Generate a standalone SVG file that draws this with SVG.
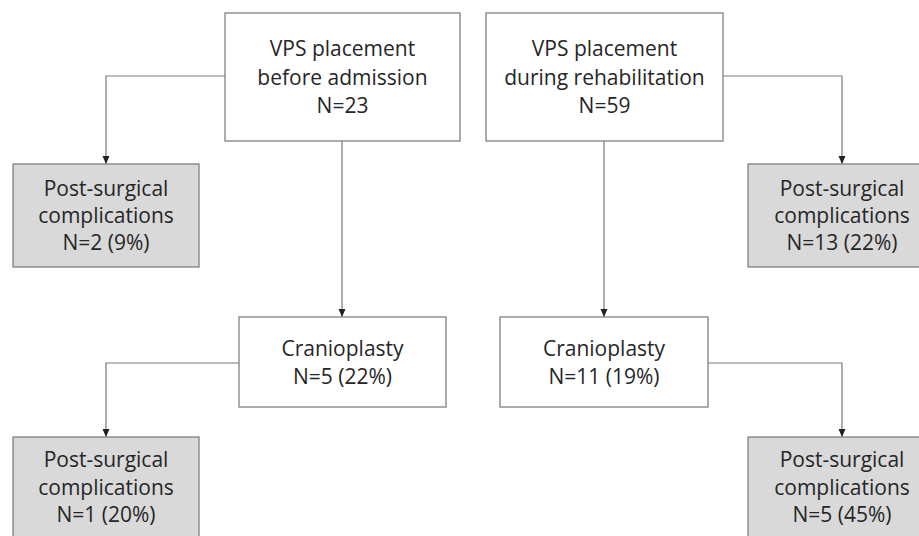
<svg xmlns="http://www.w3.org/2000/svg" width="919" height="536" viewBox="0 0 919 536">
<style>
.box{fill:#ffffff;stroke:#808080;stroke-width:1.3}
.grey{fill:#d9d9d9;stroke:#808080;stroke-width:1.3}
.t{font-family:"Open Sans","Liberation Sans",sans-serif;font-size:21px;fill:#262626;text-anchor:middle}
.c{fill:none;stroke:#7a7a7a;stroke-width:1.2}
</style>
<defs>
<marker id="arr" viewBox="0 0 8 8" refX="8" refY="4" markerWidth="8" markerHeight="8" markerUnits="userSpaceOnUse" orient="auto">
<path d="M0,0.5 L8,4 L0,7.5 Z" fill="#222"/>
</marker>
</defs>
<rect width="919" height="536" fill="#ffffff"/>
<g id="connectors">
<path class="c" d="M225,76 H106 V164" marker-end="url(#arr)"/>
<path class="c" d="M342,141 V317" marker-end="url(#arr)"/>
<path class="c" d="M723,76 H842 V164" marker-end="url(#arr)"/>
<path class="c" d="M604,141 V317" marker-end="url(#arr)"/>
<path class="c" d="M239,363 H106 V437" marker-end="url(#arr)"/>
<path class="c" d="M708,363 H842 V437" marker-end="url(#arr)"/>
</g>
<g id="vps-before">
<rect class="box" x="225" y="13" width="235" height="128"/>
<text class="t" x="342.5" y="56">VPS placement</text>
<text class="t" x="342.5" y="84.5">before admission</text>
<text class="t" x="342.5" y="113">N=23</text>
</g>
<g id="vps-during">
<rect class="box" x="486" y="13" width="237" height="128"/>
<text class="t" x="604.5" y="56">VPS placement</text>
<text class="t" x="604.5" y="84.5">during rehabilitation</text>
<text class="t" x="604.5" y="113">N=59</text>
</g>
<g id="comp-before">
<rect class="grey" x="13" y="164" width="186" height="103"/>
<text class="t" x="106" y="196">Post-surgical</text>
<text class="t" x="106" y="223">complications</text>
<text class="t" x="106" y="250">N=2 (9%)</text>
</g>
<g id="comp-during">
<rect class="grey" x="748" y="164" width="180" height="103"/>
<text class="t" x="842" y="196">Post-surgical</text>
<text class="t" x="842" y="223">complications</text>
<text class="t" x="842" y="250">N=13 (22%)</text>
</g>
<g id="cranio-before">
<rect class="box" x="239" y="317" width="207" height="90"/>
<text class="t" x="342.5" y="356">Cranioplasty</text>
<text class="t" x="342.5" y="384">N=5 (22%)</text>
</g>
<g id="cranio-during">
<rect class="box" x="500" y="317" width="208" height="90"/>
<text class="t" x="604" y="356">Cranioplasty</text>
<text class="t" x="604" y="384">N=11 (19%)</text>
</g>
<g id="comp-cranio-before">
<rect class="grey" x="13" y="437" width="186" height="110"/>
<text class="t" x="106" y="467">Post-surgical</text>
<text class="t" x="106" y="495">complications</text>
<text class="t" x="106" y="522">N=1 (20%)</text>
</g>
<g id="comp-cranio-during">
<rect class="grey" x="748" y="437" width="180" height="110"/>
<text class="t" x="842" y="467">Post-surgical</text>
<text class="t" x="842" y="495">complications</text>
<text class="t" x="842" y="522">N=5 (45%)</text>
</g>
</svg>
